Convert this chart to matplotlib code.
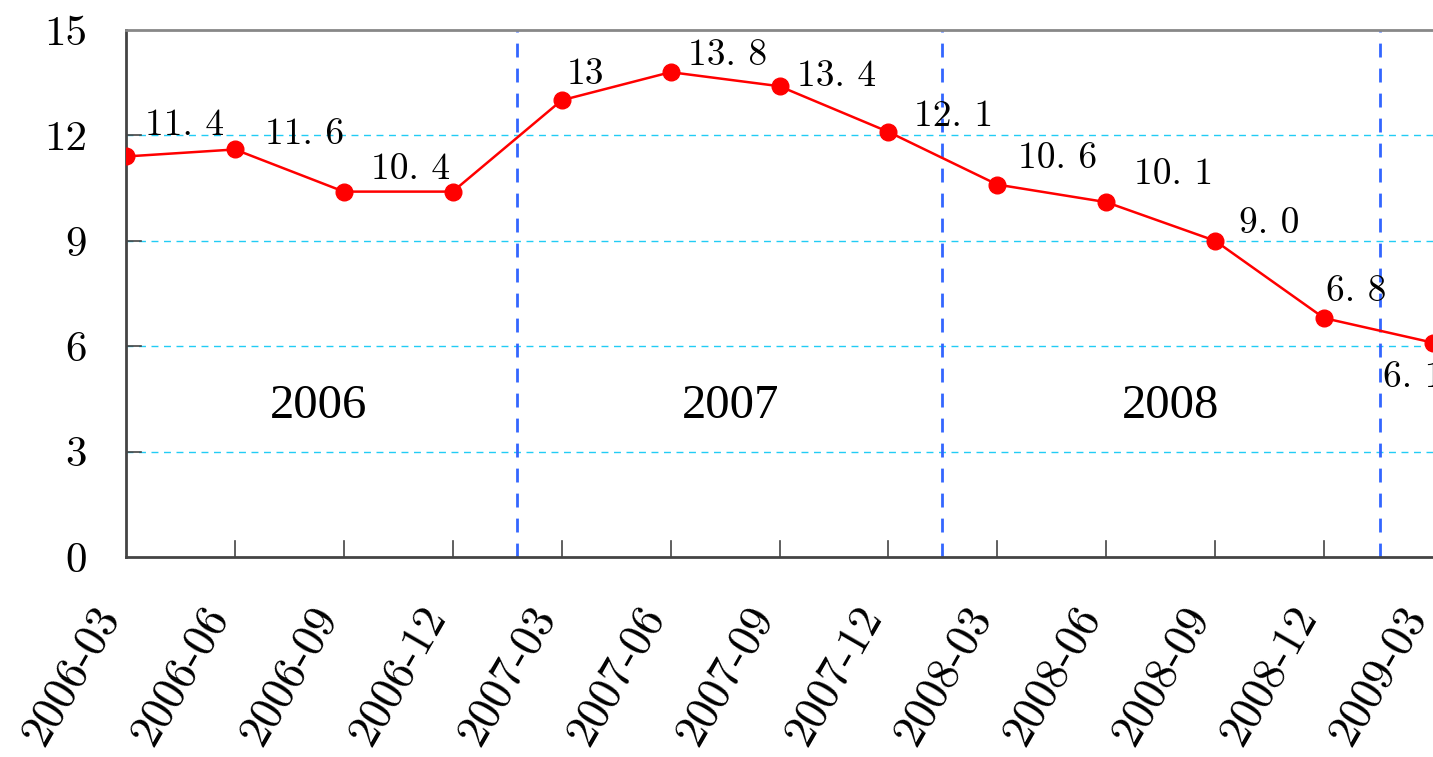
import matplotlib
matplotlib.use('Agg')
import matplotlib.pyplot as plt
import matplotlib.transforms as mtransforms

plt.rcParams['font.family'] = ['cmr10', 'DejaVu Serif']
plt.rcParams['axes.unicode_minus'] = False

quarters = ['2006-03', '2006-06', '2006-09', '2006-12',
            '2007-03', '2007-06', '2007-09', '2007-12',
            '2008-03', '2008-06', '2008-09', '2008-12', '2009-03']
values = [11.4, 11.6, 10.4, 10.4, 13.0, 13.8, 13.4, 12.1, 10.6, 10.1, 9.0, 6.8, 6.1]
point_labels = ['11. 4', '11. 6', '10. 4', '', '13', '13. 8', '13. 4', '12. 1',
                '10. 6', '10. 1', '9. 0', '6. 8', '6. 1']
years = ['2006', '2007', '2008']
year_centers = [1.77, 5.55, 9.59]
year_dividers = [3.59, 7.49, 11.51]

# label offsets in pixels
offsets = [(59, 31), (70, 15), (67, 22), (0, 0), (24, 26), (57, 17), (57, 10),
           (65, 16), (60, 26), (67, 28), (54, 17), (32, 27), (-20, -35)]

fig = plt.figure(figsize=(14.33, 7.57), dpi=100)
ax = fig.add_axes([126 / 1433, 1 - 557 / 757, 1 - 126 / 1433, (557 - 30) / 757])

x = list(range(len(quarters)))
ax.set_xlim(0, len(quarters) - 1)
ax.set_ylim(0, 15)
ax.set_yticks([0, 3, 6, 9, 12, 15])

for yv in [3, 6, 9, 12]:
    ax.axhline(yv, color='#22ccf5', lw=1.0, ls=(0, (5, 4)), zorder=1)
for xv in year_dividers:
    ax.axvline(xv, color='#3366ff', lw=2.0, ls=(0, (5, 4)), zorder=1)

ax.plot(x, values, color='#ff0000', lw=1.8, marker='o', markersize=12, zorder=3)

for xi, v, lab, off in zip(x, values, point_labels, offsets):
    if lab:
        ax.annotate(lab, (xi, v), xytext=off, textcoords='offset pixels',
                    ha='center', va='center', fontsize=27, annotation_clip=False)

for xc, yr in zip(year_centers, years):
    ax.text(xc, 4.3, yr, ha='center', va='center', fontsize=35,
            family=['Liberation Serif', 'DejaVu Serif'])

ax.set_xticks(x)
ax.set_xticklabels(quarters, rotation=60, ha='right', rotation_mode='anchor')
ax.tick_params(axis='x', length=0, pad=30, labelsize=33)
ax.tick_params(axis='y', length=0, pad=28, labelsize=31)
shift = mtransforms.ScaledTranslation(-34 / 100, 0, fig.dpi_scale_trans)
for lab in ax.get_xticklabels():
    lab.set_transform(lab.get_transform() + shift)

# short tick marks inside the axes
for xi in x[1:-1]:
    ax.plot([xi, xi], [0, 0.45], color='#444444', lw=1.2, zorder=2)
for yv in [3, 6, 9, 12, 15]:
    ax.plot([0, 0.14], [yv, yv], color='#444444', lw=1.2, zorder=2)

ax.spines['left'].set_color('#444444')
ax.spines['bottom'].set_color('#444444')
ax.spines['top'].set_color('#888888')
ax.spines['right'].set_visible(False)
for s in ['left', 'bottom', 'top']:
    ax.spines[s].set_linewidth(2)

fig.savefig('out.png', dpi=100)
